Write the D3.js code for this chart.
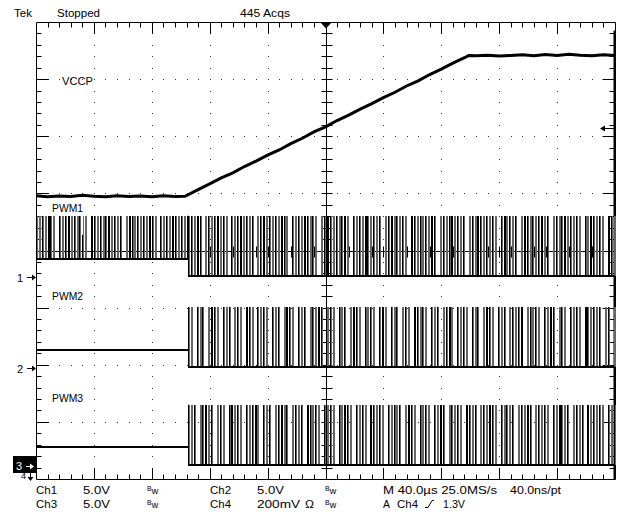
<!DOCTYPE html>
<html><head><meta charset="utf-8">
<script src="https://cdn.jsdelivr.net/npm/d3@7"></script>
<style>
html,body{margin:0;padding:0;background:#fff;}
svg{display:block;}
text{font-family:"Liberation Sans",Arial,sans-serif;font-size:11px;fill:#000;}
</style></head><body>
<svg id="c" width="617" height="521"></svg>
<script>
// ================= DATA =================
const headerTexts = ["Tek", "Stopped", "445 Acqs"];
const timeDomain = [-200, 200];          // µs (10 div x 40 µs)
const divDomain = [-4, 4];               // vertical divisions
const usPerDiv = 40;
const channelNames = ["Ch1", "Ch2", "Ch3", "Ch4"];
const channelVoltsPerDiv = [5.0, 5.0, 5.0, 0.2];
const channelGround = [-0.46, -2.06, -3.77, -4.35];   // ground marker position (div)
const traceLabels = ["VCCP", "PWM1", "PWM2", "PWM3"];

// VCCP on Ch4
const vccpTime  = [-200,-192,-184,-176,-168,-160,-152,-144,-136,-128,-120,-112,-104,-97,
                   -88,-80,-72,-64,-56,-48,-40,-32,-24,-16,-8,0,8,16,24,32,40,48,56,64,72,80,88,96,99,
                   104,112,120,128,136,144,152,160,168,176,184,192,200];
const vccpVolts = [1.062,1.058,1.061,1.059,1.063,1.060,1.058,1.062,1.059,1.061,1.058,1.062,1.059,1.060,
                   1.083,1.103,1.124,1.142,1.164,1.183,1.204,1.222,1.244,1.263,1.285,1.303,1.325,1.344,1.365,1.384,1.405,1.424,1.446,1.464,1.486,1.505,1.526,1.545,1.553,
                   1.552,1.554,1.551,1.553,1.555,1.552,1.556,1.553,1.557,1.554,1.552,1.555,1.553];

// PWM channels (Ch1, Ch2, Ch3)
const pwmSwitchTime = -95;   // µs
const slotWidth = 2;         // µs per pattern character
const pwmHigh    = [5.34, 5.34, 5.35];
const pwmLowPre  = [1.58, 1.58, 1.66];
const pwmLowPost = [0.10, 0.10, 0.10];
const pwm1Pre  = "kgkgbkg.kgkbgkgkhg.bkgkgkbgkgk.gbkgkgkgbkg.kgkgbkgkgk";
const pwm1Post = "gkgbk.gkgkbgkg.kgkbgkgk.gkbgkgkgbkg.kgkgbkgkg.gkbkgkgkbg.kgkgbkgkgk.gkbgkgkg.bkgkgkgbk.gkgkbgkgk.gkgbkgkgkg.kbgkgk.gbkgkgkbgk.gkgkbgkgkg.kgbkgkg.bkgkgkgbk.g.kgk";
const pwm2Post = "kg.kgk.gbkg.kgk.gkg.bkg.kgkg.kgk.gbkg.kgk.gkgbk.gkg.kgk.gbkg.kgkg.kbg.kgk.gkg.bkgkg.kgk.gkbg.kgkg.kgk.gbkg.kgk.gkgkb.gkgkg.kgbk.gkg.kgkg.bkgkgk.gk.gkb";
const pwm3Post = "kgk.gkbgk.gkg.kbgkg.kgkbg.kgk.gkbgk.gkgk.bkgkg.kgkg.kgbkg.kgkg.bkgkg.kgkgk.gbkg.kgkg.kgbk.gkgkg.bkgk.gkgbkg.kgkgk.gkgbk.gkgkg.kgbkgk.gkgk.bgkgkg.kgkbg";
const triggerLevel = 1.3;    // V on Ch4
const triggerTime = 0;

// readout
const readoutRow1 = ["Ch1", "5.0V", "Bw", "Ch2", "5.0V", "Bw", "M 40.0µs 25.0MS/s", "40.0ns/pt"];
const readoutRow2 = ["Ch3", "5.0V", "Bw", "Ch4", "200mV", "Ω", "Bw", "A", "Ch4", "1.3V"];

// ================= LAYOUT =================
const svg = d3.select("#c");
svg.append("rect").attr("width", 617).attr("height", 521).attr("fill", "#fff");
const X = d3.scaleLinear().domain(timeDomain).range([36, 615]);
const Y = d3.scaleLinear().domain(divDomain).range([479, 22]);
const px = v => Math.round(v) + 0.5;
const chY = (ch, volts) => Y(channelGround[ch] + volts / channelVoltsPerDiv[ch]);

const minorT = d3.range(-25, 26).map(k => k * usPerDiv / 5);
const majorT = d3.range(-5, 6).map(k => k * usPerDiv);
const minorD = d3.range(-20, 21).map(k => k * 0.2);
const majorD = d3.range(-4, 5);

// --- graticule dots ---
const grat = svg.append("g");
const dotData = [];
majorT.filter(t => t !== 0 && Math.abs(t) !== 200).forEach(t =>
  minorD.filter(d => Math.abs(d) < 3.99).forEach(d => dotData.push([t, d])));
majorD.filter(d => d !== 0 && Math.abs(d) !== 4).forEach(d =>
  minorT.filter(t => Math.abs(t) < 199).forEach(t => dotData.push([t, d])));
grat.selectAll("rect.dot").data(dotData).join("rect").attr("class", "dot")
  .attr("x", d => Math.round(X(d[0]))).attr("y", d => Math.round(Y(d[1])))
  .attr("width", 1).attr("height", 1).attr("fill", "#333");

// --- frame ---
const x0 = px(X(timeDomain[0])), x1 = px(X(timeDomain[1])), y0 = px(Y(divDomain[1])), y1 = px(Y(divDomain[0]));
const lineStyle = sel => sel.attr("stroke", "#000").attr("stroke-width", 1).attr("fill", "none");
grat.append("path").attr("d", `M${x0},${y1}V${y0}H${x1}V${y1}H${x0}`).call(lineStyle);
grat.append("line").attr("x1", x1 - 1).attr("x2", x1 - 1).attr("y1", y0 + 8).attr("y2", y1).attr("stroke", "#000").attr("stroke-width", 2);

// edge ticks
const isMajorT = t => Math.abs(t / usPerDiv - Math.round(t / usPerDiv)) < 1e-6;
const isMajorD = d => Math.abs(d - Math.round(d)) < 1e-6;
const tickG = grat.append("g");
minorT.filter(t => Math.abs(t) < 199).forEach(t => {
  const x = px(X(t)), L = isMajorT(t) ? 11 : 5;
  tickG.append("line").attr("x1", x).attr("x2", x).attr("y1", y0).attr("y2", y0 + L).call(lineStyle);
  tickG.append("line").attr("x1", x).attr("x2", x).attr("y1", y1).attr("y2", y1 - L).call(lineStyle);
});
minorD.filter(d => Math.abs(d) < 3.99).forEach(d => {
  const y = px(Y(d)), L = isMajorD(d) ? 12 : 5;
  tickG.append("line").attr("x1", x0).attr("x2", x0 + L).attr("y1", y).attr("y2", y).call(lineStyle);
  tickG.append("line").attr("x1", x1).attr("x2", x1 - L - 1).attr("y1", y).attr("y2", y).call(lineStyle);
});
// centre cross with ticks
const cx = px(X(0)), cy = px(Y(0));
grat.append("line").attr("x1", cx).attr("x2", cx).attr("y1", y0).attr("y2", y1).call(lineStyle);
grat.append("line").attr("x1", x0).attr("x2", x1).attr("y1", cy).attr("y2", cy).call(lineStyle);
minorD.filter(d => Math.abs(d) < 3.99).forEach(d => {
  const y = px(Y(d));
  tickG.append("line").attr("x1", cx - 5).attr("x2", cx + 6).attr("y1", y).attr("y2", y).call(lineStyle);
});
minorT.filter(t => Math.abs(t) < 199).forEach(t => {
  const x = px(X(t));
  tickG.append("line").attr("x1", x).attr("x2", x).attr("y1", cy - 5).attr("y2", cy + 6).call(lineStyle);
});

// --- PWM traces ---
const GRAY = "#666";
const glyph = {
  k: [{dx: 0, w: 1, f: "#000", h: 1}, {dx: 1, w: 1, f: GRAY, h: 1}],
  g: [{dx: 0, w: 2, f: GRAY, h: 1}],
  b: [{dx: 0, w: 2, f: "#000", h: 1}],
  h: [{dx: 0, w: 1, f: "#000", h: 0.55}, {dx: 1, w: 1, f: GRAY, h: 1}],
  ".": []
};
const traces = svg.append("g");
function drawPulses(ch, pattern, t0, tEnd, lowV) {
  const yLo = chY(ch, lowV), yHi = chY(ch, pwmHigh[ch]);
  const items = [];
  Array.from(pattern).forEach((c, i) => {
    const t = t0 + i * slotWidth;
    if (t >= tEnd) return;
    (glyph[c] || []).forEach(s => items.push({t, s}));
  });
  traces.append("g").selectAll("rect").data(items).join("rect")
    .attr("x", d => Math.round(X(d.t)) + d.s.dx)
    .attr("y", d => Math.round(yLo - (yLo - yHi) * d.s.h))
    .attr("width", d => d.s.w)
    .attr("height", d => Math.round((yLo - yHi) * d.s.h))
    .attr("fill", d => d.s.f);
  traces.append("line").attr("x1", X(t0)).attr("x2", Math.min(X(tEnd), x1 - 1))
    .attr("y1", Math.round(yLo)).attr("y2", Math.round(yLo)).attr("stroke", "#000").attr("stroke-width", 2);
}
const pwmPost = [pwm1Post, pwm2Post, pwm3Post];
[0, 1, 2].forEach(ch => {
  if (ch === 0) {
    drawPulses(0, pwm1Pre, timeDomain[0], pwmSwitchTime, pwmLowPre[0]);
  } else {
    const yPre = Math.round(chY(ch, pwmLowPre[ch]));
    traces.append("line").attr("x1", X(timeDomain[0])).attr("x2", X(pwmSwitchTime))
      .attr("y1", yPre).attr("y2", yPre).attr("stroke", "#000").attr("stroke-width", 2);
  }
  drawPulses(ch, pwmPost[ch], pwmSwitchTime, timeDomain[1], pwmLowPost[ch]);
  const xs = px(X(pwmSwitchTime));
  const yA = Math.min(chY(ch, pwmLowPre[ch]), chY(ch, pwmHigh[ch]));
  traces.append("line").attr("x1", xs).attr("x2", xs).attr("y1", yA).attr("y2", chY(ch, pwmLowPost[ch]))
    .attr("stroke", "#000").attr("stroke-width", 1);
});

// --- VCCP trace ---
const vccpLine = d3.line().x(d => X(d[0])).y(d => chY(3, d[1]));
traces.append("path").datum(vccpTime.map((t, i) => [t, vccpVolts[i]]))
  .attr("d", vccpLine).attr("fill", "none").attr("stroke", "#000").attr("stroke-width", 3);

// --- labels on traces ---
const labelPos = [[62, 85], [52, 212], [52, 300], [52, 402]];
traceLabels.forEach((s, i) => svg.append("text").attr("x", labelPos[i][0]).attr("y", labelPos[i][1])
  .attr("textLength", 31).attr("lengthAdjust", "spacingAndGlyphs").text(s));

// --- ground markers ---
const mk = svg.append("g");
[0, 1].forEach(ch => {
  const y = Math.round(chY(ch, 0));
  mk.append("text").attr("x", 17).attr("y", y + 5).text(String(ch + 1));
  mk.append("path").attr("d", `M27,${y + 0.5}H33`).attr("stroke", "#000").attr("fill", "none");
  mk.append("path").attr("d", `M32,${y - 2.5}L36,${y + 0.5}L32,${y + 3.5}Z`).attr("fill", "#000");
});
{
  const y = Math.round(chY(2, 0));
  mk.append("rect").attr("x", 13).attr("y", y - 10).attr("width", 23).attr("height", 17).attr("fill", "#000");
  mk.append("text").attr("x", 16).attr("y", y + 4).attr("fill", "#fff").style("fill", "#fff").text("3");
  mk.append("path").attr("d", `M26,${y + 0.5}H31`).attr("stroke", "#fff").attr("fill", "none");
  mk.append("path").attr("d", `M30,${y - 2.5}L34,${y + 0.5}L30,${y + 3.5}Z`).attr("fill", "#fff");
  mk.append("text").attr("x", 21).attr("y", 479).style("font-size", "9px").text("4");
  mk.append("path").attr("d", `M30.5,472V478`).attr("stroke", "#000").attr("fill", "none");
  mk.append("path").attr("d", `M27.5,477L30.5,481L33.5,477Z`).attr("fill", "#000");
}
// trigger position (top) and level (right)
const tx = X(triggerTime);
mk.append("path").attr("d", `M${tx - 5},${y0}L${tx + 6},${y0}L${tx + 0.5},${y0 + 6}Z`).attr("fill", "#000");
const ty = Math.round(chY(3, triggerLevel)) + 0.5;
mk.append("path").attr("d", `M604,${ty}H614`).attr("stroke", "#000").attr("fill", "none");
mk.append("path").attr("d", `M605,${ty - 3}L600,${ty}L605,${ty + 3}Z`).attr("fill", "#000");

// --- header ---
const headerPos = [[14, 17, 18], [57, 17, 43], [240, 17, 50]];
headerTexts.forEach((s, i) => svg.append("text").attr("x", headerPos[i][0]).attr("y", headerPos[i][1])
  .attr("textLength", headerPos[i][2]).attr("lengthAdjust", "spacingAndGlyphs").text(s));

// --- readout ---
function bw(x, y) {
  const t = svg.append("text").attr("x", x).attr("y", y);
  t.append("tspan").attr("dy", -3).style("font-size", "7px").text("B");
  t.append("tspan").attr("dy", 3).style("font-size", "9px").text("w");
}
const r1Pos = [[36, 21], [83, 27], null, [210, 21], [257, 27], null, [383, 114], [510, 51]];
readoutRow1.forEach((s, i) => {
  if (s === "Bw") { bw(i === 2 ? 147 : 325, 494); return; }
  svg.append("text").attr("x", r1Pos[i][0]).attr("y", 494).attr("textLength", r1Pos[i][1])
    .attr("lengthAdjust", "spacingAndGlyphs").text(s);
});
const r2Pos = [[36, 21], [83, 27], null, [210, 21], [257, 43], [305, 9], null, [383, 7], [397, 21], [443, 22]];
readoutRow2.forEach((s, i) => {
  if (s === "Bw") { bw(i === 2 ? 147 : 325, 508); return; }
  svg.append("text").attr("x", r2Pos[i][0]).attr("y", 508).attr("textLength", r2Pos[i][1])
    .attr("lengthAdjust", "spacingAndGlyphs").text(s);
});
// rising-edge trigger slope symbol
svg.append("path").attr("d", "M425,507.5H428L432,500.5H434").attr("stroke", "#000").attr("fill", "none");
</script>
</body></html>
